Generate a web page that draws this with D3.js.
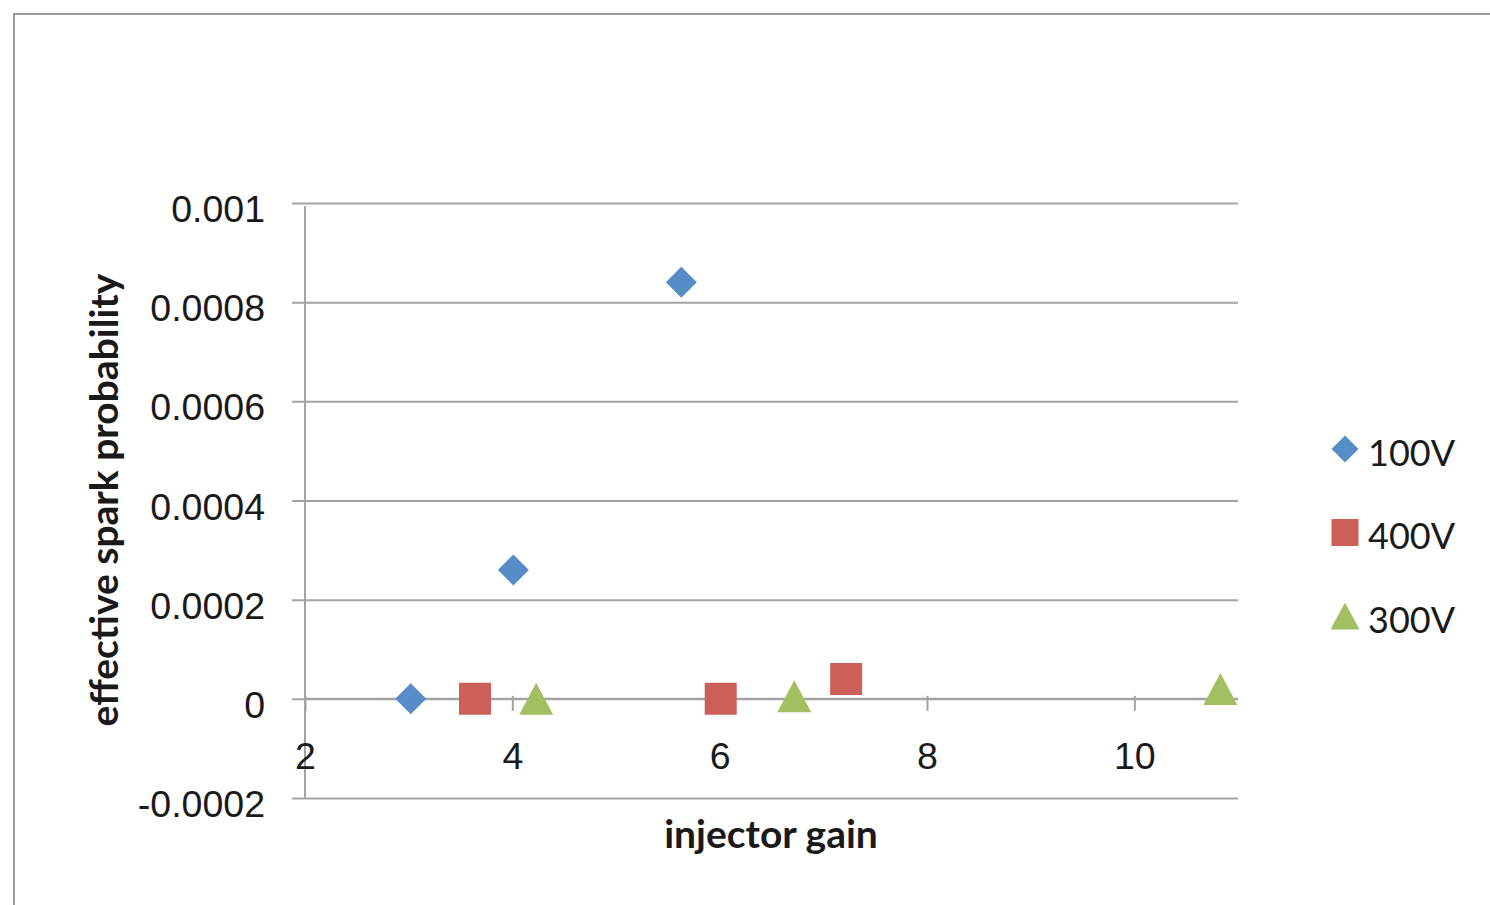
<!DOCTYPE html>
<html>
<head>
<meta charset="utf-8">
<script src="https://cdn.jsdelivr.net/npm/d3@7"></script>
<style>
  html, body { margin: 0; padding: 0; background: #fff; }
  svg { display: block; font-family: Lato, "Open Sans", sans-serif; }
</style>
</head>
<body>
<svg id="chart" width="1490" height="905"></svg>
<script>
// Series: injector gain (x) vs effective spark probability (y)
const seriesNames = ["100V", "400V", "300V"];
const gain100 = [3.02, 4.01, 5.63];
const prob100 = [0, 0.00026, 0.00084];
const gain400 = [3.64, 6.01, 7.22];
const prob400 = [0, 0, 0.00004];
const gain300 = [4.23, 6.72, 10.83];
const prob300 = [0, 0.000005, 0.00002];

const xTicks = [2, 4, 6, 8, 10];
const yTicks = [-0.0002, 0, 0.0002, 0.0004, 0.0006, 0.0008, 0.001];
const yTickLabels = ["-0.0002", "0", "0.0002", "0.0004", "0.0006", "0.0008", "0.001"];

const colors = { "100V": "#578dc6", "400V": "#cc5f57", "300V": "#a2c062" };
const shapes = { "100V": "diamond", "400V": "square", "300V": "triangle" };

const series = [
  { name: "100V", xs: gain100, ys: prob100 },
  { name: "400V", xs: gain400, ys: prob400 },
  { name: "300V", xs: gain300, ys: prob300 }
];

const svg = d3.select("#chart");
const plot = { left: 305, right: 1238, top: 203, bottom: 798 };

const x = d3.scaleLinear().domain([2, 11]).range([plot.left, plot.right]);
const y = d3.scaleLinear().domain([-0.0002, 0.001]).range([plot.bottom, plot.top]);

const gridColor = "#a3a3a3";

// chart frame
svg.append("rect")
  .attr("x", 14).attr("y", 14)
  .attr("width", 1500).attr("height", 1000)
  .attr("fill", "none").attr("stroke", "#9a9a9a").attr("stroke-width", 2);

// horizontal gridlines with outside ticks, via the left axis
const yAxis = d3.axisLeft(y)
  .tickValues(yTicks)
  .tickSize(-(plot.right - plot.left))
  .tickFormat((d, i) => yTickLabels[i]);

const gy = svg.append("g")
  .attr("transform", `translate(${plot.left},0)`)
  .call(yAxis);
gy.select(".domain").remove();
gy.selectAll(".tick line")
  .attr("x1", -13)
  .attr("stroke", gridColor).attr("stroke-width", 2);
gy.selectAll(".tick text")
  .attr("x", -40).attr("y", 5).attr("dy", "0.36em")
  .attr("font-size", 37.5).attr("fill", "#1a1a1a");

// vertical axis line
svg.append("line")
  .attr("x1", plot.left).attr("x2", plot.left)
  .attr("y1", y(0.001) + 3).attr("y2", y(-0.0002))
  .attr("stroke", gridColor).attr("stroke-width", 2);

// horizontal axis crossing at y = 0
const xAxis = d3.axisBottom(x)
  .tickValues(xTicks)
  .tickSize(12)
  .tickFormat(d3.format("d"));

const gx = svg.append("g")
  .attr("transform", `translate(0,${y(0)})`)
  .call(xAxis);
gx.select(".domain")
  .attr("d", `M${plot.left},0H${plot.right}`)
  .attr("stroke", gridColor).attr("stroke-width", 2);
gx.selectAll(".tick line")
  .attr("y1", -3)
  .attr("stroke", gridColor).attr("stroke-width", 2);
gx.selectAll(".tick text")
  .attr("y", 57).attr("dy", "0.36em")
  .attr("font-size", 37.5).attr("fill", "#1a1a1a");

// marker path generator
function markerPath(shape, s) {
  const h = s / 2;
  if (shape === "diamond") return `M0,${-h}L${h},0L0,${h}L${-h},0Z`;
  if (shape === "square") return `M${-h},${-h}H${h}V${h}H${-h}Z`;
  return `M0,${-h}L${h + 1},${h}H${-h - 1}Z`;
}

// data points
series.forEach(s => {
  const pts = s.xs.map((v, i) => ({ gx: v, py: s.ys[i] }));
  svg.append("g").selectAll("path")
    .data(pts)
    .join("path")
    .attr("transform", d => `translate(${x(d.gx)},${y(d.py)})`)
    .attr("d", markerPath(shapes[s.name], s.name === "100V" ? 31 : 32))
    .attr("fill", colors[s.name]);
});

// axis titles
svg.append("text")
  .attr("transform", "translate(104,500) rotate(-90)")
  .attr("text-anchor", "middle").attr("dy", "0.36em")
  .attr("font-size", 39).attr("font-weight", "bold").attr("fill", "#1a1a1a")
  .text("effective spark probability");

svg.append("text")
  .attr("x", 771).attr("y", 834).attr("dy", "0.36em")
  .attr("text-anchor", "middle")
  .attr("font-size", 39).attr("font-weight", "bold").attr("fill", "#1a1a1a")
  .text("injector gain");

// legend
const legendY = d3.scalePoint().domain(seriesNames).range([449, 616]);
const lg = svg.append("g").selectAll("g")
  .data(seriesNames)
  .join("g")
  .attr("transform", d => `translate(1345,${legendY(d)})`);
lg.append("path")
  .attr("d", d => markerPath(shapes[d], 27))
  .attr("fill", d => colors[d]);
lg.append("text")
  .attr("x", 23).attr("y", 4).attr("dy", "0.36em")
  .attr("font-size", 36).attr("fill", "#1a1a1a")
  .text(d => d);
</script>
</body>
</html>
